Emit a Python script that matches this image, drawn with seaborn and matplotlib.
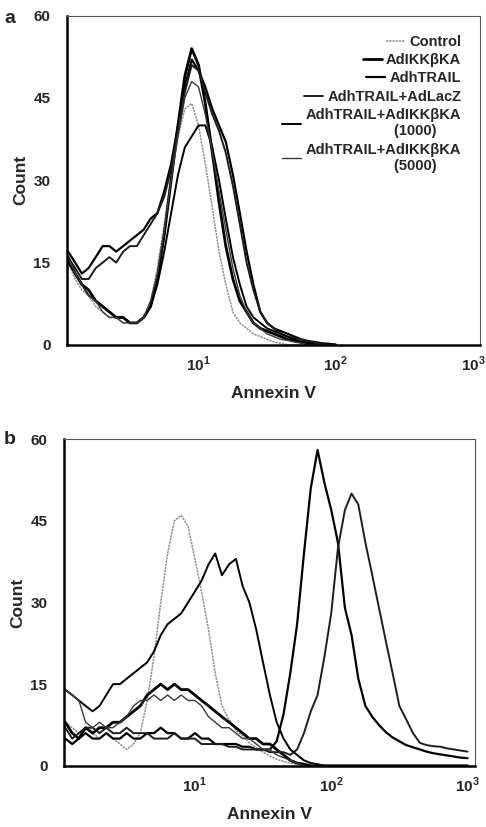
import numpy as np
import pandas as pd
import matplotlib
matplotlib.use("Agg")
import matplotlib.pyplot as plt
import seaborn as sns

# Annexin V flow histograms, panel a and panel b
sns.set_style("white")
plt.rcParams['font.family'] = ['Liberation Sans', 'DejaVu Sans']
plt.rcParams['font.weight'] = 'bold'
plt.rcParams['mathtext.fontset'] = 'custom'
plt.rcParams['mathtext.rm'] = 'Liberation Sans:bold'
plt.rcParams['mathtext.bf'] = 'Liberation Sans:bold'

labels = ["Control", "AdIKK\u03b2KA", "AdhTRAIL", "AdhTRAIL+AdLacZ",
          "AdhTRAIL+AdIKK\u03b2KA\n(1000)      ", "AdhTRAIL+AdIKK\u03b2KA\n(5000)      "]

# channel positions (Annexin V)
annexin = [1.12, 1.26, 1.41, 1.58, 1.78, 2.0, 2.24, 2.51, 2.82, 3.16,
           3.55, 3.98, 4.47, 5.01, 5.62, 6.31, 7.08, 7.94, 8.91, 10.0,
           11.2, 12.6, 14.1, 15.8, 17.8, 20.0, 22.4, 25.1, 28.2, 31.6,
           35.5, 39.8, 44.7, 50.1, 56.2, 63.1, 70.8, 79.4, 89.1, 100,
           112, 126, 141, 158, 178, 200, 224, 251, 282, 316,
           355, 398, 447, 501, 562, 631, 708, 794, 891, 1000]

# panel a counts (first 40 channels)
a_control = [15, 12, 10, 9, 7, 6, 5, 5, 4, 4, 4, 5, 8, 14, 22, 31, 38, 43, 44, 40,
             33, 25, 17, 11, 6, 4, 3, 2, 1.5, 1, 0.5, 0.3, 0, 0, 0, 0, 0, 0, 0, 0]
a_ikk = [16, 13, 11, 10, 8, 7, 6, 5, 5, 4, 4, 5, 7, 12, 20, 30, 40, 49, 54, 51,
         44, 35, 26, 18, 12, 8, 6, 4, 3, 2.5, 2, 1.5, 1, 0.8, 0.5, 0.3, 0, 0, 0, 0]
a_trail = [17, 15, 13, 14, 16, 18, 18, 17, 18, 19, 20, 21, 23, 24, 28, 33, 40, 47, 52, 50,
           47, 43, 40, 37, 31, 24, 17, 11, 6, 4, 3, 2.5, 2, 1.5, 1, 0.7, 0.5, 0.3, 0.2, 0]
a_lacz = [16, 14, 12, 12, 14, 15, 16, 15, 17, 18, 18, 20, 22, 24, 27, 32, 39, 46, 51, 50,
          46, 42, 39, 35, 29, 22, 15, 10, 6, 4, 3, 2, 1.5, 1.2, 1, 0.6, 0.4, 0.2, 0, 0]
a_1000 = [15, 13, 11, 9, 8, 7, 6, 5, 5, 4, 4, 5, 7, 11, 17, 24, 31, 36, 38, 40,
          40, 36, 30, 23, 16, 11, 7, 5, 4, 3, 2.5, 2, 1.5, 1, 0.5, 0.3, 0, 0, 0, 0]
a_5000 = [16, 13, 11, 9, 8, 6, 5, 5, 4, 4, 4, 5, 8, 13, 21, 30, 38, 45, 48, 47,
          42, 35, 28, 21, 14, 9, 6, 4, 3, 2, 1.5, 1, 0.8, 0.5, 0.3, 0, 0, 0, 0, 0]

# panel b counts (all 60 channels)
b_control = [8, 7, 6, 7, 6, 5, 6, 5, 4, 3, 4, 6, 12, 20, 30, 39, 45, 46, 44, 38,
             32, 25, 17, 11, 8.5, 6.5, 5.5, 4.2, 3.3, 2.5, 1.8, 1.2, 0.8, 0.5, 0.3, 0, 0, 0, 0, 0,
             0, 0, 0, 0, 0, 0, 0, 0, 0, 0, 0, 0, 0, 0, 0, 0, 0, 0, 0, 0]
b_ikk = [8, 6, 5, 7, 6, 7, 7, 8, 8, 9, 10, 11, 13, 14, 15, 14, 15, 14, 14, 13,
         12, 11, 10, 9, 8, 7, 6, 5, 5, 4, 4, 3, 2, 1, 0.5, 0.3, 0, 0, 0, 0,
         0, 0, 0, 0, 0, 0, 0, 0, 0, 0, 0, 0, 0, 0, 0, 0, 0, 0, 0, 0]
b_trail = [5, 4, 5, 6, 5, 5, 6, 5, 5, 6, 5, 5, 6, 6, 7, 6, 6, 5, 5, 6,
           5, 5, 4, 4, 4, 4, 3.5, 3.5, 3, 3, 3, 4.5, 9.5, 17, 26, 39, 51, 58, 52, 47,
           41, 29, 24, 16, 11, 9, 7.5, 6.2, 5.2, 4.5, 3.8, 3.4, 3, 2.6, 2.3, 2.1, 1.9, 1.7, 1.5, 1.4]
b_lacz = [7, 5, 6, 7, 7, 6, 7, 6, 6, 7, 6, 6, 6, 5, 5, 5, 6, 5, 5, 5,
          4, 4, 4, 4, 3.5, 3.5, 3, 3, 3, 3, 2.5, 2.5, 2.5, 2, 3, 6, 10, 13, 20, 28,
          40, 47, 50, 48, 41, 35, 29, 23, 17, 11, 8.5, 6, 4.2, 3.8, 3.6, 3.5, 3.2, 3, 2.8, 2.6]
b_1000 = [14, 13, 12, 11, 10, 11, 13, 15, 15, 16, 17, 18, 19, 21, 24, 26, 27, 28, 30, 32,
          34, 37, 39, 35, 37, 38, 33, 30, 25, 19, 13, 8, 5, 3, 2, 1, 0.5, 0.3, 0, 0,
          0, 0, 0, 0, 0, 0, 0, 0, 0, 0, 0, 0, 0, 0, 0, 0, 0, 0, 0, 0]
b_5000 = [14, 13, 12, 8, 7, 8, 7, 7, 8, 9, 11, 12, 12, 13, 12, 13, 12, 13, 12, 12,
          11, 9, 8, 7, 7, 6, 5, 5, 4, 3, 3, 2, 1.5, 1, 0.5, 0, 0, 0, 0, 0,
          0, 0, 0, 0, 0, 0, 0, 0, 0, 0, 0, 0, 0, 0, 0, 0, 0, 0, 0, 0]

# line look for each condition
colors = ['#8f8f8f', 'black', 'black', '#1e1e1e', 'black', '#3a3a3a']
widths = [1.1, 2.0, 1.6, 1.4, 1.4, 1.0]
styles = [(0, (1.5, 0.6)), '-', '-', '-', '-', '-']

fig = plt.figure(figsize=(4.86, 8.27), dpi=100)
ax_a = fig.add_axes([0.138, 0.583, 0.850, 0.398])
ax_b = fig.add_axes([0.132, 0.074, 0.845, 0.395])

panel_a = [a_control, a_ikk, a_trail, a_lacz, a_1000, a_5000]
panel_b = [b_control, b_ikk, b_trail, b_lacz, b_1000, b_5000]

for ax, curves in [(ax_a, panel_a), (ax_b, panel_b)]:
    for i, counts in enumerate(curves):
        df = pd.DataFrame({'Annexin V': annexin[:len(counts)], 'Count': counts})
        sns.lineplot(data=df, x='Annexin V', y='Count', ax=ax, color=colors[i],
                     linewidth=widths[i], linestyle=styles[i],
                     estimator=None, sort=False, label=labels[i])
    ax.set_xscale('log')
    ax.set_xlim(1.1, 1130)
    ax.set_ylim(0, 60)
    ax.set_yticks([0, 15, 30, 45, 60])
    ax.set_xticks([10, 100, 1000])
    ax.set_xticklabels([r'$10^{1}$', r'$10^{2}$', r'$10^{3}$'])
    ax.minorticks_off()
    ax.tick_params(axis='both', length=0, labelsize=11)
    ax.tick_params(axis='y', pad=12)
    ax.tick_params(axis='x', pad=7)
    ax.set_xlabel('Annexin V', fontsize=12.5, fontweight='bold', labelpad=9)
    ax.set_ylabel('Count', fontsize=12.5, fontweight='bold', labelpad=4)
    for side in ['left', 'bottom']:
        ax.spines[side].set_linewidth(1.8)
        ax.spines[side].set_color('black')
    for side in ['top', 'right']:
        ax.spines[side].set_linewidth(0.8)
        ax.spines[side].set_color('#555555')

# legend only on panel a, entries right aligned like the figure
ax_b.get_legend().remove()
leg = ax_a.legend(loc='upper right', frameon=False, fontsize=10.5, handlelength=1.3,
                  handletextpad=0.3, labelspacing=0.3, borderaxespad=0.9)
for col in leg._legend_handle_box.get_children():
    col.align = 'right'
for t in leg.get_texts():
    t.set_multialignment('right')
    t.set_fontweight('bold')

fig.text(0.008, 0.972, 'a', fontsize=14, fontweight='bold')
fig.text(0.008, 0.463, 'b', fontsize=14, fontweight='bold')

plt.savefig("out.png", dpi=100)
